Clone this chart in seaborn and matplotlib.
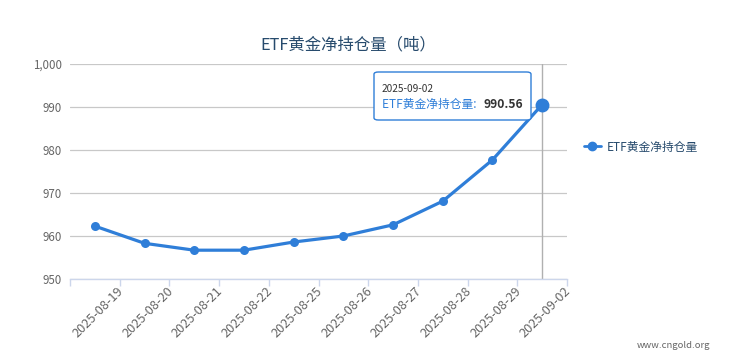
import numpy as np
import pandas as pd
import matplotlib
matplotlib.use("Agg")
import matplotlib.pyplot as plt
import matplotlib.transforms as mtransforms
from matplotlib.patches import FancyBboxPatch
from matplotlib.lines import Line2D
import seaborn as sns

dates = ["2025-08-19", "2025-08-20", "2025-08-21", "2025-08-22", "2025-08-25",
         "2025-08-26", "2025-08-27", "2025-08-28", "2025-08-29", "2025-09-02"]
holdings = [962.3, 958.3, 956.7, 956.7, 958.6, 960.0, 962.6, 968.1, 977.7, 990.56]
y_ticks = [950, 960, 970, 980, 990, 1000]
y_labels = ["950", "960", "970", "980", "990", "1,000"]
series_name = "ETF黄金净持仓量"
title = "ETF黄金净持仓量（吨）"

sns.set_theme(style="white")
plt.rcParams["font.family"] = ["Noto Sans CJK SC", "DejaVu Sans"]

color = "#2f7ed8"
title_color = "#274b6d"
df = pd.DataFrame({"pos": np.arange(len(dates)), "value": holdings})

fig = plt.figure(figsize=(7.29, 3.61), dpi=100)
ax = fig.add_axes([70 / 729, 1 - 279 / 361, (567 - 70) / 729, (279 - 64) / 361])

sns.lineplot(data=df, x="pos", y="value", ax=ax, color=color, linewidth=2.3,
             marker="o", markersize=6.5, markeredgewidth=0, zorder=3)
# highlight last point
ax.plot(df["pos"].iloc[-1], df["value"].iloc[-1], "o", color=color, markersize=9, zorder=4)

ax.set_xlim(-0.5, len(dates) - 0.5)
ax.set_ylim(950, 1000)
ax.set_yticks(y_ticks)
ax.set_yticklabels(y_labels)
ax.yaxis.grid(True, color="#c8c8c8", linewidth=0.9)
ax.set_axisbelow(True)
for s in ["top", "right", "left"]:
    ax.spines[s].set_visible(False)
ax.spines["bottom"].set_color("#ccd6eb")
ax.spines["bottom"].set_linewidth(1)
ax.set_xlabel("")
ax.set_ylabel("")

# category boundary ticks
ax.set_xticks(np.arange(len(dates) + 1) - 0.5, minor=True)
ax.tick_params(axis="x", which="minor", length=5, color="#ccd6eb", width=1, bottom=True)
ax.set_xticks(np.arange(len(dates)))
ax.set_xticklabels(dates, rotation=45, ha="right", rotation_mode="anchor",
                   fontsize=9.2, color="#666666")
ax.tick_params(axis="x", which="major", length=0, pad=4)
offset = mtransforms.ScaledTranslation(22 / 100, 0, fig.dpi_scale_trans)
for lab in ax.get_xticklabels():
    lab.set_transform(lab.get_transform() + offset)
ax.tick_params(axis="y", length=0, labelsize=8.3, labelcolor="#666666", pad=6)

# crosshair on last point
ax.axvline(len(dates) - 1, color="#b0b0b0", linewidth=1, zorder=2)

fig.text(348 / 729, 1 - 45 / 361, title, ha="center", va="center", fontsize=11.8, color=title_color)

# legend
handle = Line2D([0], [0], color=color, marker="o", linewidth=2, markersize=6)
fig.legend([handle], [series_name], loc="center left", bbox_to_anchor=(573 / 729, 1 - 147 / 361),
           frameon=False, fontsize=8.5, handlelength=1.5, handletextpad=0.5,
           labelcolor=title_color)

# tooltip
box = FancyBboxPatch((374 / 729, 1 - 120 / 361), (531 - 374) / 729, (120 - 72) / 361,
                     boxstyle="round,pad=0,rounding_size=0.006", transform=fig.transFigure,
                     facecolor="white", edgecolor=color, linewidth=1, zorder=10)
fig.patches.append(box)
fig.text(382 / 729, 1 - 89 / 361, dates[-1], fontsize=7.3, color="#333333", va="center", zorder=11)
fig.text(382 / 729, 1 - 104 / 361, series_name + ": ", fontsize=8.5, color=color,
         va="center", zorder=11)
fig.text(483 / 729, 1 - 104 / 361, f"{holdings[-1]:.2f}", fontsize=8.7, color="#333333",
         fontweight="bold", va="center", zorder=11)

fig.text(710 / 729, 1 - 346 / 361, "www.cngold.org", ha="right", va="center",
         fontsize=6.8, color="#666666")

fig.savefig("out.png", dpi=100)
